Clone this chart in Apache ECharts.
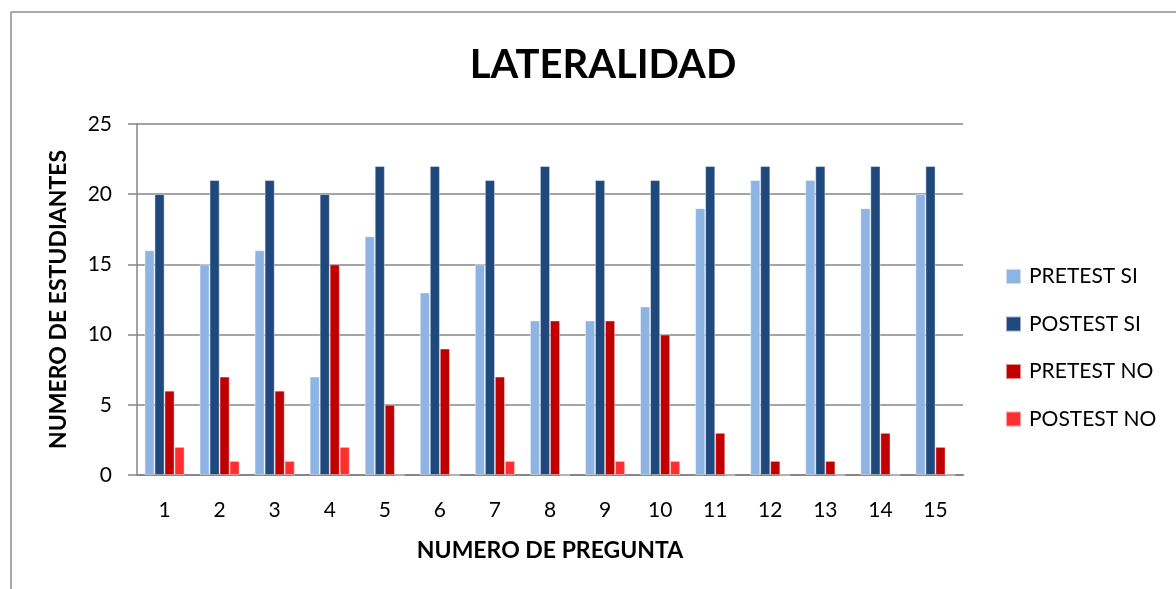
<!DOCTYPE html>
<html>
<head>
<meta charset="utf-8">
<script src="https://cdn.jsdelivr.net/npm/echarts@6/dist/echarts.min.js"></script>
<style>
html,body{margin:0;padding:0;background:#fff;}
#main{width:1176px;height:589px;}
</style>
</head>
<body>
<div id="main"></div>
<script>
const categories = ['1','2','3','4','5','6','7','8','9','10','11','12','13','14','15'];
const pretestSi  = [16,15,16,7,17,13,15,11,11,12,19,21,21,19,20];
const postestSi  = [20,21,21,20,22,22,21,22,21,21,22,22,22,22,22];
const pretestNo  = [6,7,6,15,5,9,7,11,11,10,3,1,1,3,2];
const postestNo  = [2,1,1,2,0,0,1,0,1,1,0,0,0,0,0];
const seriesNames = ['PRETEST SI','POSTEST SI','PRETEST NO','POSTEST NO'];
const yTicks = [0,5,10,15,20,25];

const colors = ['#8EB4E3','#1F497D','#C00000','#FF2F2F'];
const FONT = 'Lato, "Open Sans", sans-serif';

const chart = echarts.init(document.getElementById('main'), null, {renderer:'canvas'});
const dataSets = [pretestSi, postestSi, pretestNo, postestNo];
const series = dataSets.map((d,i)=>({
  name: seriesNames[i],
  type: 'bar',
  data: d,
  barWidth: 10,
  barGap: '0%',
  itemStyle: {color: colors[i], borderColor: 'rgba(255,255,255,0.55)', borderWidth: 0.8},
  emphasis: {disabled: true}
}));

chart.setOption({
  animation: false,
  backgroundColor: '#fff',
  color: colors,
  title: {
    text: 'LATERALIDAD',
    left: 598, top: 40, textAlign: 'center',
    textStyle: {fontFamily: FONT, fontSize: 40, fontWeight: 'bold', color: '#000'}
  },
  legend: {
    orient: 'vertical',
    left: 1000, top: 261,
    itemWidth: 15, itemHeight: 15, itemGap: 26.5,
    icon: 'rect',
    textStyle: {fontFamily: FONT, fontSize: 21, color: '#000', padding: [0,0,0,3]},
    data: seriesNames
  },
  grid: {left: 137, top: 124, width: 826, height: 351, containLabel: false},
  xAxis: {
    type: 'category',
    data: categories,
    axisLine: {show: true, lineStyle: {color: '#868686', width: 2}},
    axisTick: {show: false},
    axisLabel: {fontFamily: FONT, fontSize: 21, color: '#000', margin: 25},
    name: 'NUMERO DE PREGUNTA',
    nameLocation: 'middle',
    nameGap: 64,
    nameTextStyle: {fontFamily: FONT, fontSize: 23, fontWeight: 'bold', color: '#000'}
  },
  yAxis: {
    type: 'value',
    min: 0, max: 25, interval: 5,
    axisLine: {show: true, lineStyle: {color: '#868686', width: 1.5}},
    axisTick: {show: true, length: 9, lineStyle: {color: '#868686', width: 1.5}},
    axisLabel: {fontFamily: FONT, fontSize: 21, color: '#000', margin: 25,
      formatter: v => yTicks.includes(v) ? String(v) : ''},
    splitLine: {show: true, lineStyle: {color: '#868686', width: 1.5}},
    name: 'NUMERO DE ESTUDIANTES',
    nameLocation: 'middle',
    nameGap: 67,
    nameRotate: 90,
    nameTextStyle: {fontFamily: FONT, fontSize: 23, fontWeight: 'bold', color: '#000'}
  },
  graphic: [
    {type: 'line', shape: {x1: 11, y1: 12, x2: 1176, y2: 12}, style: {stroke: '#8c8c8c', lineWidth: 1.5}},
    {type: 'line', shape: {x1: 11, y1: 12, x2: 11, y2: 589}, style: {stroke: '#8c8c8c', lineWidth: 1.5}}
  ],
  series: series
});
</script>
</body>
</html>
